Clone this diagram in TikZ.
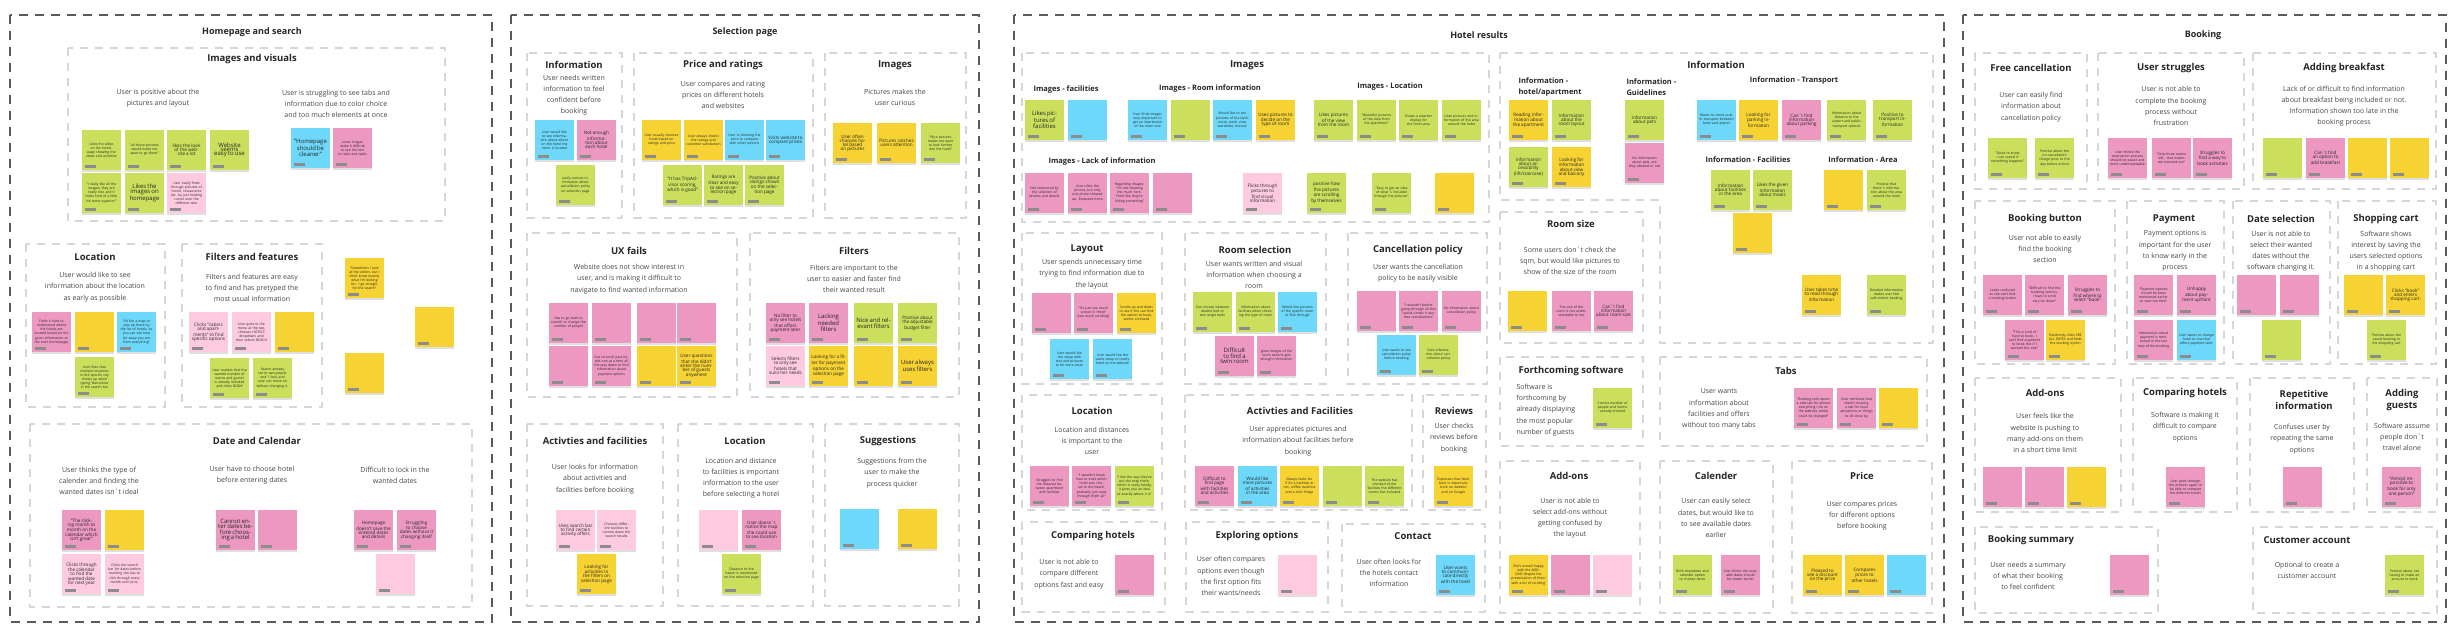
\documentclass[tikz,border=0pt]{standalone}
\usepackage{fontspec}
\setmainfont{Open Sans}
\usetikzlibrary{shadows}

\definecolor{gr}{RGB}{203,223,92}
\definecolor{ye}{RGB}{246,210,50}
\definecolor{pk}{RGB}{236,152,192}
\definecolor{lp}{RGB}{253,202,224}
\definecolor{bl}{RGB}{110,216,250}
\definecolor{framedark}{RGB}{90,90,90}
\definecolor{framelight}{RGB}{214,214,214}
\definecolor{inktext}{RGB}{70,70,70}

\newcommand{\sn}{\fontsize{3.4}{4.1}\selectfont}
\newcommand{\mn}{\fontsize{4.6}{5.6}\selectfont}
\newcommand{\bn}{\fontsize{6}{7.2}\selectfont}

% sticky note: left, top, colour, text
\newcounter{stick}
\newcommand{\stick}[4]{%
  \stepcounter{stick}%
  \edef\stickname{s\arabic{stick}}%
  \node[sticky, fill=#3] (\stickname) at (#1+19.5,#2+20) {#4};
  \fill[tag] ([shift={(3,-2)}]\stickname.south west) rectangle ++(11,-3);
}

\begin{document}
\begin{tikzpicture}[x=1pt, y=-1pt,
  outer/.style={draw=framedark, line width=1.6pt, dash pattern=on 9pt off 7pt},
  grp/.style={draw=framelight, line width=1.2pt, dash pattern=on 8pt off 7pt},
  sticky/.style={minimum width=39pt, minimum height=40pt, text width=35pt, inner sep=0pt,
    align=center, font=\sn, text=black!85,
    drop shadow={shadow xshift=0pt, shadow yshift=-2pt, opacity=.25}},
  tag/.style={fill=black!45},
  head/.style={font=\bfseries\fontsize{9}{11}\selectfont, text=black!85},
  title/.style={font=\bfseries\fontsize{9.5}{12.5}\selectfont, text=black!85, align=center},
  sub/.style={font=\bfseries\fontsize{7.5}{11.5}\selectfont, text=black!85, align=left},
  desc/.style={font=\fontsize{7}{11.2}\selectfont, text=inktext, align=center}]

\fill[white] (0,0) rectangle (2458,636);
\useasboundingbox (0,0) rectangle (2458,636);

% outer areas
\draw[outer] (10,15) rectangle (492,622);
\draw[outer] (511,15) rectangle (979,622);
\draw[outer] (1014,15) rectangle (1944,622);
\draw[outer] (1963,15) rectangle (2446,622);
\node[head] (h-home) at (252,32) {Homepage and search};
\node[head] (h-select) at (745,32) {Selection page};
\node[head] (h-hotel) at (1479,35) {Hotel results};
\node[head] (h-book) at (2203,35) {Booking};

%% Homepage and search
\draw[grp] (68,48) rectangle (445,221);
\draw[grp] (26,244) rectangle (165,407);
\draw[grp] (182,244) rectangle (322,407);
\draw[grp] (30,424) rectangle (472,607);

\node[title] (t-visual) at (252,59) {Images and visuals};
\node[desc] (d-visual1) at (158,98) {User is positive about the\\pictures and layout};
\node[desc] (d-visual2) at (336,104) {User is struggling to see tabs and\\information due to color choice\\and too much elements at once};
\stick{82}{130}{gr}{Likes the video on the homepage showing the views and activities}
\stick{125}{130}{gr}{"all those pictures would make me want to go there"}
\stick{167}{130}{gr}{\mn likes the look of the website a lot}
\stick{210}{130}{gr}{\bn Website seems easy to use}
\stick{82}{173}{gr}{"I really like all the images, they are really nice and it looks kind of a little bit more superior"}
\stick{125}{173}{gr}{\bn Likes the images on homepage}
\stick{167}{173}{lp}{User easily finds through pictures of hotels, restaurants etc. by just holding cursor over the different tabs}
\stick{291}{128}{bl}{\bn "Homepage should be cleaner"}
\stick{333}{128}{pk}{some images make it difficult to see the text on tabs and tasks}

\node[title] (t-loc1) at (95,257) {Location};
\node[desc] (d-loc1) at (95,287) {User would like to see\\information about the location\\as early as possible};
\stick{32}{312}{pk}{Finds it hard to understand where the hotels are located based on the given information at the start (homepage)}
\stick{75}{312}{ye}{}
\stick{117}{312}{bl}{"I'd like a map to pop up there by the list of hotels, so you can see how far away you are from everything"}
\stick{75}{357}{gr}{User likes that multiple locations in the specific city shows up when typing 'Barcelona' in the search bar}

\node[title] (t-filt1) at (252,257) {Filters and features};
\node[desc] (d-filt1) at (252,288) {Filters and features are easy\\to find and has pretyped the\\most usual information};
\stick{189}{312}{lp}{\mn Clicks "cabins and apartments" to find specific options}
\stick{232}{312}{lp}{User goes to the menu at the top, chooses HOTELS dropdown, and then selects BEACH}
\stick{275}{312}{ye}{}
\stick{210}{358}{gr}{User realizes that the wanted number of rooms and guests is already included and clicks BOOK}
\stick{253}{358}{gr}{Search already set to two people and 1 bed, and user can move on without changing it.}

\stick{345}{258}{ye}{"Sometimes I look at the sellers, but I don't know exactly what I'm looking for. I go straight for the search"}
\stick{415}{307}{ye}{}
\stick{345}{353}{ye}{}

\node[title] (t-date1) at (257,441) {Date and Calendar};
\node[desc] (d-date1) at (99,481) {User thinks the type of\\calender and finding the\\wanted dates isn´t ideal};
\node[desc] (d-date2) at (252,475) {User have to choose hotel\\before entering dates};
\node[desc] (d-date3) at (395,475) {Difficult to lock in the\\wanted dates};
\stick{62}{510}{pk}{\mn "The clicking month to month on the calendar which isn't great"}
\stick{105}{510}{ye}{}
\stick{62}{554}{lp}{\mn Clicks through the calendar to find the wanted date for next year}
\stick{105}{554}{lp}{Clicks the search bar for dates before realizing she has to click through every month until June.}
\stick{216}{510}{pk}{\bn Cannot enter dates before choosing a hotel}
\stick{258}{510}{pk}{}
\stick{354}{510}{pk}{\mn Homepage doesn't save the entered dates and details}
\stick{397}{510}{pk}{\mn Struggling to choose dates without it changing itself}
\stick{376}{554}{lp}{}

%% Selection page
\draw[grp] (527,53) rectangle (622,218);
\draw[grp] (634,53) rectangle (813,218);
\draw[grp] (825,53) rectangle (966,218);
\draw[grp] (527,233) rectangle (737,397);
\draw[grp] (750,233) rectangle (959,397);
\draw[grp] (527,424) rectangle (663,606);
\draw[grp] (678,424) rectangle (813,606);
\draw[grp] (825,424) rectangle (959,606);

\node[title] (t-info2) at (574,65) {Information};
\node[desc] (d-info2) at (574,95) {User needs written\\information to feel\\confident before\\booking};
\stick{535}{120}{bl}{User would like to see information about where on the hotel the room is located}
\stick{577}{120}{pk}{\mn Not enough information about each hotel}
\stick{556}{165}{gr}{easily notices information about cancellation policy on selection page}

\node[title] (t-price2) at (723,65) {Price and ratings};
\node[desc] (d-price2) at (723,95) {User compares and rating\\prices on different hotels\\and websites};
\stick{642}{120}{ye}{User usually chooses hotel based on ratings and price}
\stick{684}{120}{ye}{User always checks the ratings and customer satisfaction}
\stick{725}{120}{bl}{User is checking the price to compare with other options}
\stick{766}{120}{bl}{\mn Visits website to compare prices}
\stick{663}{165}{gr}{\mn "It has TripAdvisor scoring, which is good"}
\stick{704}{165}{gr}{\mn Ratings are clear and easy to see on selection page}
\stick{745}{165}{gr}{\mn Positive about ratings shown on the selection page}

\node[title] (t-img2) at (895,65) {Images};
\node[desc] (d-img2) at (895,97) {Pictures makes the\\user curious};
\stick{833}{123}{ye}{\mn User often chooses hotel based on pictures}
\stick{877}{123}{ye}{\mn Pictures catches users attention}
\stick{921}{123}{gr}{"Nice pictures makes me want to look further into the hotel"}

\node[title] (t-ux2) at (629,251) {UX fails};
\node[desc] (d-ux2) at (629,279) {Website does not show interest in\\user, and is making it difficult to\\navigate to find wanted information};
\stick{549}{303}{pk}{Has to go back to scratch to change the number of people}
\stick{592}{303}{pk}{}
\stick{637}{303}{pk}{}
\stick{677}{303}{pk}{}
\stick{549}{346}{pk}{}
\stick{592}{346}{pk}{Has to scroll past hotels one at a time all the way down to find information about payment options}
\stick{637}{346}{ye}{}
\stick{677}{346}{ye}{\mn User questions that she didn't enter the number of guests anywhere}

\node[title] (t-filt2) at (854,251) {Filters};
\node[desc] (d-filt2) at (854,279) {Filters are important to the\\user to easier and faster find\\their wanted result};
\stick{766}{303}{pk}{\mn No filter to only see hotels that offers payment later}
\stick{809}{303}{pk}{\bn Lacking needed filters}
\stick{854}{303}{gr}{\bn Nice and relevant filters}
\stick{898}{303}{gr}{\mn Positive about the adjustable budget filter}
\stick{766}{346}{lp}{\mn Selects filters to only see hotels that suits her needs}
\stick{809}{346}{ye}{\mn Looking for a filter for payment options on the selection page}
\stick{854}{346}{ye}{}
\stick{898}{346}{ye}{\bn User always uses filters}

\node[title] (t-act2) at (595,441) {Activties and facilities};
\node[desc] (d-act2) at (595,479) {User looks for information\\about activities and\\facilities before booking};
\stick{556}{510}{lp}{\mn Uses search bar to find certain activity offers}
\stick{597}{510}{lp}{Chooses different facilities to narrow down the search results}
\stick{577}{554}{ye}{\mn Looking for activities in the filters on selection page}

\node[title] (t-loc2) at (745,441) {Location};
\node[desc] (d-loc2) at (741,478) {Location and distance\\to facilities is important\\information to the user\\before selecting a hotel};
\stick{699}{510}{lp}{}
\stick{742}{510}{pk}{\mn User doesn´t notice the map she could use to see location}
\stick{722}{554}{gr}{Distance to the beach is mentioned on the selection page}

\node[title] (t-sugg2) at (888,441) {Suggestions};
\node[desc] (d-sugg2) at (892,473) {Suggestions from the\\user to make the\\process quicker};
\stick{840}{509}{bl}{}
\stick{898}{509}{ye}{}

%% Hotel results
\draw[grp] (1022,53) rectangle (1489,222);
\draw[grp] (1022,233) rectangle (1162,384);
\draw[grp] (1185,233) rectangle (1326,384);
\draw[grp] (1348,233) rectangle (1487,384);
\draw[grp] (1022,395) rectangle (1162,510);
\draw[grp] (1185,395) rectangle (1412,510);
\draw[grp] (1423,395) rectangle (1486,510);
\draw[grp] (1022,522) rectangle (1165,612);
\draw[grp] (1186,522) rectangle (1328,612);
\draw[grp] (1342,524) rectangle (1485,612);
\draw[grp] (1500,53) -- (1933,53) -- (1933,343) -- (1660,343) -- (1660,200) -- (1500,200) -- cycle;
\draw[grp] (1500,212) rectangle (1643,343);
\draw[grp] (1500,357) rectangle (1643,446);
\draw[grp] (1660,357) rectangle (1927,446);
\draw[grp] (1500,461) rectangle (1640,613);
\draw[grp] (1660,461) rectangle (1773,613);
\draw[grp] (1792,461) rectangle (1932,613);

\node[title] (t-img3) at (1247,65) {Images};
\node[sub, anchor=west] (u-imgfac) at (1030,90) {Images - facilities};
\node[sub] (u-imgroom) at (1210,89) {Images - Room information};
\node[sub] (u-imgloc) at (1390,87) {Images - Location};
\node[sub, anchor=west] (u-imglack) at (1045,162) {Images - Lack of information};
\stick{1025}{100}{gr}{\bn Likes pictures of facilities}
\stick{1068}{100}{bl}{}
\stick{1128}{100}{bl}{User finds images very important to get an impression of the room size}
\stick{1171}{100}{gr}{}
\stick{1213}{100}{bl}{Would like to see pictures of the bathroom, sleek, view, wardrobe, dresser}
\stick{1256}{100}{ye}{\mn Uses pictures to decide on the type of room}
\stick{1314}{100}{gr}{\mn Likes pictures of the view from the room}
\stick{1357}{100}{gr}{"Beautiful pictures of the view from the apartment"}
\stick{1399}{100}{gr}{Shows a weather display for the hotel area}
\stick{1442}{100}{gr}{Likes pictures and information of the area around the hotel}
\stick{1025}{173}{pk}{Not impressed by the selection of photos and details}
\stick{1068}{173}{pk}{User clicks the photos, but only one photo showed up. Expected more}
\stick{1110}{173}{pk}{Regarding images: "It's not showing me much here. Feels like they're hiding something"}
\stick{1153}{173}{pk}{}
\stick{1243}{173}{lp}{\mn Flicks through pictures to find visual information}
\stick{1307}{173}{gr}{\mn positive how the pictures are scrolling by themselves}
\stick{1372}{173}{gr}{"Easy to get an idea of what´s included through the pictures"}
\stick{1435}{173}{ye}{}

\node[title] (t-layout3) at (1087,249) {Layout};
\node[desc] (d-layout3) at (1092,274) {User spends unnecessary time\\trying to find information due to\\the layout};
\stick{1032}{293}{pk}{}
\stick{1074}{293}{pk}{"It's just too much screen in there" (too much scrolling)}
\stick{1117}{293}{ye}{Scrolls up and down to see if she can find the option to book, seems confused}
\stick{1050}{339}{bl}{User would like the setup with text and pictures to be more clean}
\stick{1093}{339}{bl}{User would like the same setup on every hotel on the website}

\node[title] (t-room3) at (1255,250) {Room selection};
\node[desc] (d-room3) at (1254,275) {User wants written and visual\\information when choosing a\\room};
\stick{1193}{292}{gr}{Can choose between double bed or two single beds}
\stick{1236}{292}{gr}{Information about facilities when choosing the type of room}
\stick{1278}{292}{bl}{Would like pictures of the specific room to flick through}
\stick{1215}{336}{pk}{\bn Difficult to find a twin room}
\stick{1257}{336}{pk}{given images of the room doesn't give enough information}

\node[title] (t-cancel3) at (1418,250) {Cancellation policy};
\node[desc] (d-cancel3) at (1418,273) {User wants the cancellation\\policy to be easily visible};
\stick{1357}{291}{pk}{}
\stick{1399}{291}{pk}{"I wouldn't bother going through all this hassle unless it was free cancellations"}
\stick{1442}{291}{pk}{No information about cancellation policy}
\stick{1377}{335}{bl}{User wants to see cancellation policy before booking}
\stick{1419}{335}{gr}{Sees information about cancellation policy}

\node[title] (t-loc3) at (1092,411) {Location};
\node[desc] (d-loc3) at (1092,441) {Location and distances\\is important to the\\user};
\stick{1030}{466}{pk}{Struggles to find the distance between apartment and facilities}
\stick{1072}{466}{pk}{"I wouldn't know how to track which hotel was closest to the beach, probably just read through them all"}
\stick{1115}{466}{gr}{"I like the way they've put the map there, which is really handy, it gives you an idea of exactly where it is"}

\node[title] (t-act3) at (1300,411) {Activties and Facilities};
\node[desc] (d-act3) at (1298,441) {User appreciates pictures and\\information about facilities before\\booking};
\stick{1195}{466}{pk}{\mn Difficult to find page with facilities and activities}
\stick{1238}{466}{bl}{\mn Would like more pictures of activities in the area}
\stick{1280}{466}{ye}{Always looks for if it's a bathtub or not, coffee machine and a mini fridge}
\stick{1323}{466}{gr}{}
\stick{1365}{466}{gr}{The website has checked of the facilities the different rooms has included}

\node[title] (t-rev3) at (1454,411) {Reviews};
\node[desc] (d-rev3) at (1454,438) {User checks\\reviews before\\booking};
\stick{1434}{466}{ye}{Expresses that feedback is important, both on website and on Google}

\node[title] (t-comp3) at (1093,536) {Comparing hotels};
\node[desc] (d-comp3) at (1069,574) {User is not able to\\compare different\\options fast and easy};
\stick{1115}{555}{pk}{}

\node[title] (t-expl3) at (1257,536) {Exploring options};
\node[desc] (d-expl3) at (1231,576) {User often compares\\options even though\\the first option fits\\their wants/needs};
\stick{1278}{555}{lp}{}

\node[title] (t-contact3) at (1413,536) {Contact};
\node[desc] (d-contact3) at (1389,573) {User often looks for\\the hotels contact\\information};
\stick{1436}{555}{bl}{\mn User wants to communicate directly with the hotel}

\node[title] (t-info3) at (1716,65) {Information};
\node[sub, anchor=west] (u-infohotel) at (1515,87) {Information -\\hotel/apartment};
\node[sub, anchor=west] (u-infoguide) at (1623,87) {Information -\\Guidelines};
\node[sub] (u-infotrans) at (1794,81) {Information - Transport};
\node[sub] (u-infofac) at (1748,160) {Information - Facilities};
\node[sub] (u-infoarea) at (1863,160) {Information - Area};
\stick{1509}{100}{ye}{\mn Reading information about the apartment}
\stick{1552}{100}{gr}{\mn Information about the room layout}
\stick{1509}{147}{gr}{\mn Information about accessibility (lift/staircase)}
\stick{1552}{147}{ye}{\mn Looking for information about view and balcony}
\stick{1625}{100}{gr}{\mn Information about pets}
\stick{1625}{143}{pk}{No information about pets, are they allowed or not}
\stick{1697}{100}{bl}{Wants to check public transport between hotel and airport}
\stick{1739}{100}{ye}{\mn Looking for parking information}
\stick{1782}{100}{pk}{\mn Can´t find information about parking}
\stick{1827}{100}{gr}{Information about distance to the airport and public transport options}
\stick{1873}{100}{gr}{\mn Positive to transport information}
\stick{1711}{170}{gr}{\mn Information about facilities in the area}
\stick{1753}{170}{gr}{\mn Likes the given information about meals}
\stick{1733}{213}{ye}{}
\stick{1824}{170}{ye}{}
\stick{1867}{170}{gr}{Positive that there´s information about the area around the hotel}
\stick{1802}{275}{ye}{\mn User takes time to read through information}
\stick{1867}{275}{gr}{Detailed information makes user feel safe before booking}

\node[title] (t-size3) at (1571,224) {Room size};
\node[desc] (d-size3) at (1570,261) {Some users don´t check the\\sqm, but would like pictures to\\show of the size of the room};
\stick{1508}{291}{ye}{}
\stick{1552}{291}{pk}{The size of the room is not understandable to her}
\stick{1594}{291}{pk}{\mn Can´t find information about room size}

\node[title] (t-soft3) at (1571,371) {Forthcoming software};
\node[desc, align=left, anchor=west] (d-soft3) at (1513,410) {Software is\\forthcoming by\\already  displaying\\the most popular\\number of guests};
\stick{1593}{388}{gr}{Correct number of people and rooms already entered}

\node[title] (t-tabs3) at (1786,371) {Tabs};
\node[desc] (d-tabs3) at (1719,409) {User wants\\information about\\facilities and offers\\without too many tabs};
\stick{1794}{388}{pk}{"Booking.com opens a new tab for almost everything I do on the website, which could be changed"}
\stick{1837}{388}{pk}{User mentions that there's missing a tab for local attractions or things to do close by}
\stick{1879}{388}{ye}{}

\node[title] (t-addon3) at (1569,476) {Add-ons};
\node[desc] (d-addon3) at (1570,518) {User is not able to\\select add-ons without\\getting confused by\\the layout};
\stick{1509}{555}{ye}{She's overall happy with the ADD-ONS despite the presentation of them with a lot of scrolling}
\stick{1551}{555}{pk}{}
\stick{1593}{555}{lp}{}

\node[title] (t-cal3) at (1716,476) {Calender};
\node[desc] (d-cal3) at (1716,518) {User can easily select\\dates, but would like to\\to see available dates\\earlier};
\stick{1673}{555}{gr}{Both dropdown and calender option to choose dates}
\stick{1721}{555}{pk}{User thinks the available dates should be shown earlier}

\node[title] (t-price3) at (1862,476) {Price};
\node[desc] (d-price3) at (1862,516) {User compares prices\\for different options\\before booking};
\stick{1803}{555}{ye}{\mn Pleased to see a discount on the price}
\stick{1845}{555}{ye}{\mn Compares prices to other hotels}
\stick{1887}{555}{bl}{}

%% Booking
\draw[grp] (1975,53) rectangle (2087,189);
\draw[grp] (2098,53) rectangle (2244,189);
\draw[grp] (2253,53) rectangle (2436,189);
\draw[grp] (1975,201) rectangle (2115,364);
\draw[grp] (2127,201) rectangle (2224,364);
\draw[grp] (2233,201) rectangle (2330,364);
\draw[grp] (2338,201) rectangle (2436,364);
\draw[grp] (1975,378) rectangle (2121,512);
\draw[grp] (2133,378) rectangle (2237,512);
\draw[grp] (2250,378) rectangle (2354,512);
\draw[grp] (2367,378) rectangle (2437,512);
\draw[grp] (1975,527) rectangle (2158,613);
\draw[grp] (2253,527) rectangle (2437,613);

\node[title] (t-free4) at (2031,68) {Free cancellation};
\node[desc] (d-free4) at (2031,107) {User can easily find\\information about\\cancellation policy};
\stick{1988}{138}{gr}{"Good to know I can cancel if something happens"}
\stick{2035}{138}{gr}{Positive about the no cancellation charge prior to the day before arrival}

\node[title] (t-strug4) at (2171,68) {User struggles};
\node[desc] (d-strug4) at (2171,106) {User is not able to\\complete the booking\\process without\\frustration};
\stick{2108}{138}{pk}{User thinks the reservation process should be easier and more understandable}
\stick{2152}{138}{pk}{"Only three rooms left.. that makes me stressed out"}
\stick{2193}{138}{pk}{\mn Struggles to find a way to book activities}

\node[title] (t-break4) at (2344,68) {Adding breakfast};
\node[desc] (d-break4) at (2344,106) {Lack of or difficult to find information\\about breakfast being included or not.\\Information shown too late in the\\booking process};
\stick{2263}{138}{gr}{}
\stick{2306}{138}{pk}{\mn Can´t find an option to add breakfast}
\stick{2348}{138}{ye}{}
\stick{2390}{138}{ye}{}

\node[title] (t-button4) at (2045,219) {Booking button};
\node[desc] (d-button4) at (2045,249) {User not able to easily\\find the booking\\section};
\stick{1983}{275}{pk}{Looks confused as she can't find a booking button}
\stick{2025}{275}{pk}{"Difficult to find the booking section, I have to scroll very far down"}
\stick{2068}{275}{pk}{\mn Struggles to find where to select "book"}
\stick{2005}{320}{pk}{"This is kind of hard to book. I can't find anywhere to book this if I wanted this one"}
\stick{2046}{320}{ye}{Randomly clicks SEE ALL RATES and finds the booking option}

\node[title] (t-pay4) at (2174,219) {Payment};
\node[desc] (d-pay4) at (2175,251) {Payment options is\\important for the user\\to know early in the\\process};
\stick{2134}{275}{pk}{"Payment options should be been mentioned earlier to save me time"}
\stick{2177}{275}{pk}{\mn Unhappy about payment upfront}
\stick{2134}{320}{pk}{Information about payment is mentioned in the last step of the booking}
\stick{2177}{320}{bl}{User wants to change hotel to one that offers payment later}

\node[title] (t-date4) at (2281,219) {Date selection};
\node[desc] (d-date4) at (2281,251) {User is not able to\\select their wanted\\dates without the\\software changing it.};
\stick{2237}{275}{pk}{}
\stick{2280}{275}{pk}{}
\stick{2262}{320}{gr}{}

\node[title] (t-cart4) at (2386,219) {Shopping cart};
\node[desc] (d-cart4) at (2386,251) {Software shows\\interest by saving the\\users selected options\\in a shopping cart};
\stick{2344}{275}{ye}{}
\stick{2386}{275}{ye}{\mn Clicks "book" and enters shopping cart.}
\stick{2367}{320}{gr}{Positive about the saved booking in the shopping cart}

\node[title] (t-addon4) at (2045,393) {Add-ons};
\node[desc] (d-addon4) at (2045,433) {User feels like the\\website is pushing to\\many add-ons on them\\in a short time limit};
\stick{1983}{467}{pk}{}
\stick{2025}{467}{pk}{}
\stick{2067}{467}{ye}{}

\node[title] (t-comp4) at (2185,393) {Comparing hotels};
\node[desc] (d-comp4) at (2185,427) {Software is making it\\difficult to compare\\options};
\stick{2166}{467}{pk}{User goes through the process again to be able to compare the different hotels}

\node[title] (t-rep4) at (2304,400) {Repetitive\\information};
\node[desc] (d-rep4) at (2302,439) {Confuses user by\\repeating the same\\options};
\stick{2283}{467}{pk}{}

\node[title] (t-guest4) at (2402,400) {Adding\\guests};
\node[desc] (d-guest4) at (2402,437) {Software assume\\people don´t\\travel alone};
\stick{2382}{467}{pk}{\mn "Almost impossible to book for only one person"}

\node[title] (t-sum4) at (2031,540) {Booking summary};
\node[desc] (d-sum4) at (2028,576) {User needs a summary\\of what their booking\\to feel confident};
\stick{2110}{555}{pk}{}

\node[title] (t-acc4) at (2307,540) {Customer account};
\node[desc] (d-acc4) at (2307,570) {Optional to create a\\customer account};
\stick{2385}{555}{gr}{Positive about not having to make an account to book}

\end{tikzpicture}
\end{document}
